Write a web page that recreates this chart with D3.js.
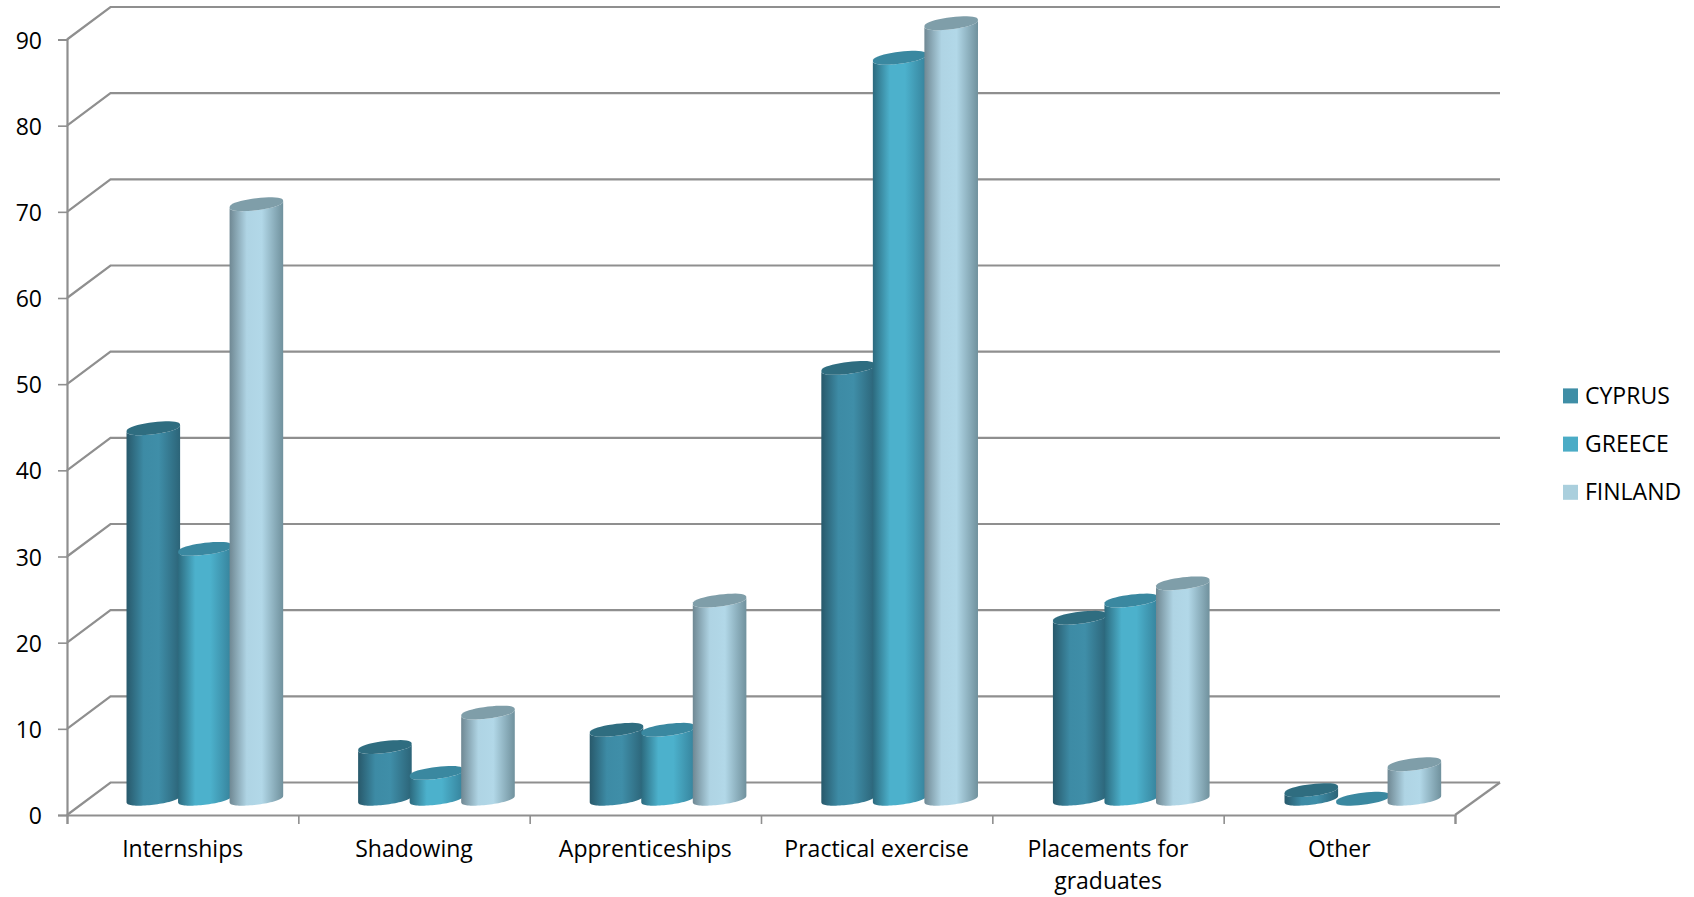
<!DOCTYPE html>
<html>
<head>
<meta charset="utf-8">
<script src="https://cdn.jsdelivr.net/npm/d3@7"></script>
<style>
  html, body { margin: 0; padding: 0; background: #fff; }
  text { font-family: "Open Sans", sans-serif; fill: #000; }
</style>
</head>
<body>
<div id="vis"></div>
<script>
var categories = ['Internships', 'Shadowing', 'Apprenticeships', 'Practical exercise', 'Placements for graduates', 'Other'];
var categoryLines = [['Internships'], ['Shadowing'], ['Apprenticeships'], ['Practical exercise'], ['Placements for', 'graduates'], ['Other']];
var seriesNames = ['CYPRUS', 'GREECE', 'FINLAND'];
var cyprus = [43, 6, 8, 50, 21, 1];
var greece = [29, 3, 8, 86, 23, 0];
var finland = [69, 10, 23, 90, 25, 4];
var seriesValues = [cyprus, greece, finland];
var yTicks = [0, 10, 20, 30, 40, 50, 60, 70, 80, 90];

var width = 1694;
var height = 897;
var floorLeft = 67;
var floorRight = 1455;
var floorY = 815;
var topY = 39.5;
// back edge of the chart box, as drawn on screen
var backLeft = 110.5;
var backRight = 1500;
var depthY = 32.5;

var palette = [
  { swatch: '#3f8ea6', top: '#2f6d80', stops: ['#28596b', '#3d8ba5', '#3f8ea8', '#2c6478'] },
  { swatch: '#4bacc6', top: '#3a88a0', stops: ['#2c6a7e', '#4cb1cc', '#4cb1cc', '#36829b'] },
  { swatch: '#aacfdd', top: '#7f9ea9', stops: ['#6f8893', '#afd4e4', '#b2d8e8', '#70919d'] }
];

var svg = d3.select('#vis').append('svg')
  .attr('width', width)
  .attr('height', height)
  .style('display', 'block');

var x = d3.scaleBand().domain(categories).range([floorLeft, floorRight]);
// cylinders stand mid-way back on the floor
var xBars = d3.scaleBand().domain(categories).range([88.75, 1478.35]);
var y = d3.scaleLinear().domain([0, 90]).range([floorY, topY]);
var offset = d3.scaleBand().domain(seriesNames).range([-77, 77.6]);

var defs = svg.append('defs');
palette.forEach(function(p, i) {
  var grad = defs.append('linearGradient').attr('id', 'cyl' + i);
  [0, 0.32, 0.6, 1].forEach(function(o, j) {
    grad.append('stop').attr('offset', o).attr('stop-color', p.stops[j]);
  });
});

var gridColor = '#8f8f8f';

// back wall lines and the slanted lines running to the front axis
var grid = svg.append('g').attr('stroke', gridColor).attr('stroke-width', 2.2).attr('fill', 'none');
grid.selectAll('path')
  .data(yTicks)
  .enter()
  .append('path')
  .attr('d', function(d) {
    var line = d3.path();
    line.moveTo(floorLeft, y(d));
    line.lineTo(backLeft, y(d) - depthY);
    line.lineTo(backRight, y(d) - depthY);
    return line.toString();
  });
var floorEdge = d3.path();
floorEdge.moveTo(floorRight, floorY);
floorEdge.lineTo(backRight, floorY - depthY);
grid.append('path').attr('d', floorEdge.toString());

var yAxis = d3.axisLeft(y).tickValues(yTicks).tickSize(9).tickPadding(16).tickFormat(d3.format('d'));
var yG = svg.append('g').attr('transform', 'translate(' + floorLeft + ',0)').call(yAxis);

var xEdges = d3.scaleLinear().domain([0, categories.length]).range([floorLeft, floorRight]);
var xAxis = d3.axisBottom(xEdges).ticks(categories.length).tickSize(9).tickFormat('');
var xG = svg.append('g').attr('transform', 'translate(0,' + floorY + ')').call(xAxis);

[yG, xG].forEach(function(g) {
  g.selectAll('path.domain').attr('stroke', gridColor).attr('stroke-width', 2.2);
  g.selectAll('line').attr('stroke', gridColor).attr('stroke-width', 1.6);
});
yG.selectAll('text')
  .attr('font-size', 23)
  .attr('dy', '0.37em')
  .attr('fill', '#000')
  .attr('font-family', '"Open Sans", sans-serif');

xG.selectAll(null)
  .data(categoryLines)
  .enter()
  .append('text')
  .attr('text-anchor', 'middle')
  .attr('font-size', 23)
  .attr('fill', '#000')
  .selectAll('tspan')
  .data(function(lines, i) {
    return lines.map(function(s, j) { return { text: s, cat: categories[i], row: j }; });
  })
  .enter()
  .append('tspan')
  .attr('x', function(d) { return x(d.cat) + x.bandwidth() / 2; })
  .attr('y', function(d) { return 42 + d.row * 32; })
  .text(function(d) { return d.text; });

// cylinders
var barWidth = 53.6;
var tiltA = barWidth / 2;
var tiltB = 6;
var tiltK = 3.2;
var floorMid = floorY - depthY / 2;

// rim of a cylinder: a sheared oval, slightly fuller than a true ellipse
function rimPoint(cx, cy, t) {
  var s = Math.sin(t);
  var full = (s < 0 ? -1 : 1) * Math.pow(Math.abs(s), 0.8);
  return [cx + tiltA * Math.cos(t), cy + tiltB * full - tiltK * Math.cos(t)];
}

function rim(cx, cy, from, to) {
  return d3.range(0, 41).map(function(i) {
    return rimPoint(cx, cy, from + (to - from) * i / 40);
  });
}

function barCenter(d) {
  return xBars(d.cat) + xBars.bandwidth() / 2 + offset(d.name) + offset.bandwidth() / 2;
}

var outline = d3.line();

var barData = [];
seriesNames.forEach(function(name, s) {
  categories.forEach(function(cat, c) {
    barData.push({ series: s, name: name, cat: cat, value: seriesValues[s][c] });
  });
});

var bars = svg.selectAll('.bar')
  .data(barData)
  .enter()
  .append('g')
  .attr('class', 'bar');

bars.append('path')
  .attr('fill', function(d) { return 'url(#cyl' + d.series + ')'; })
  .attr('d', function(d) {
    var cx = barCenter(d);
    var top = y(d.value) - depthY / 2;
    return outline(rim(cx, floorMid, Math.PI, 0).concat(rim(cx, top, 0, Math.PI))) + 'Z';
  });

bars.append('path')
  .attr('fill', function(d) { return palette[d.series].top; })
  .attr('d', function(d) {
    var top = y(d.value) - depthY / 2;
    return outline(rim(barCenter(d), top, 0, Math.PI * 2)) + 'Z';
  });

// legend
var legend = svg.selectAll('.legend')
  .data(seriesNames)
  .enter()
  .append('g')
  .attr('class', 'legend')
  .attr('transform', function(d, i) { return 'translate(1563,' + (388.4 + i * 48.2) + ')'; });

legend.append('rect')
  .attr('width', 15)
  .attr('height', 15)
  .attr('fill', function(d, i) { return palette[i].swatch; });

legend.append('text')
  .attr('x', 22)
  .attr('y', 15.6)
  .attr('font-size', 23)
  .text(function(d) { return d; });
</script>
</body>
</html>
